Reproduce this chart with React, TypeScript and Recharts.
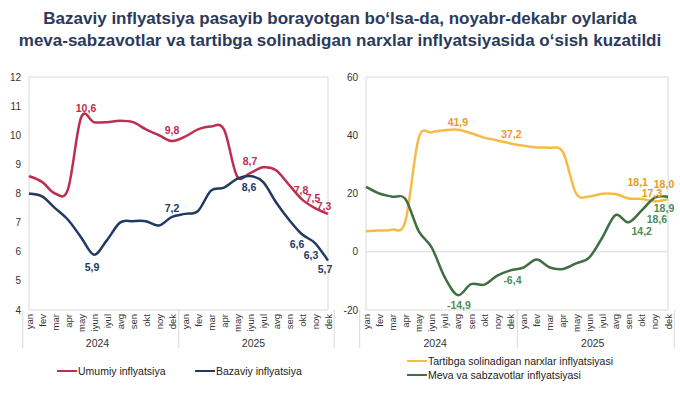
import React from 'react';
import { LineChart, Line, XAxis, YAxis, ReferenceArea, ReferenceLine, LabelList } from 'recharts';

const months = ['yan', 'fev', 'mar', 'apr', 'may', 'iyun', 'iyul', 'avg', 'sen', 'okt', 'noy', 'dek'];
const years = ['2024', '2025'];

const umumiy = [8.6, 8.4, 8.0, 8.15, 10.6, 10.45, 10.45, 10.5, 10.45, 10.2, 10.0, 9.8, 9.95, 10.2, 10.3, 10.2, 8.6, 8.7, 8.9, 8.8, 8.3, 7.8, 7.5, 7.3];
const bazaviy = [8.0, 7.9, 7.5, 7.1, 6.5, 5.9, 6.4, 7.0, 7.05, 7.05, 6.9, 7.2, 7.3, 7.4, 8.1, 8.2, 8.5, 8.6, 8.4, 7.7, 7.1, 6.6, 6.3, 5.7];
const tartibga = [7.0, 7.3, 7.6, 10.5, 38.8, 41.0, 41.7, 41.9, 40.7, 39.2, 38.2, 37.2, 36.4, 35.8, 35.7, 34.2, 20.0, 19.0, 19.9, 19.8, 18.3, 18.1, 17.3, 18.0];
const meva = [22.3, 20.0, 18.9, 18.1, 7.2, 1.5, -8.8, -14.9, -11.1, -11.3, -8.2, -6.4, -5.4, -2.7, -5.4, -5.9, -4.0, -2.0, 4.9, 12.6, 10.1, 14.2, 18.6, 18.9];

const leftTicks = [4, 5, 6, 7, 8, 9, 10, 11, 12];
const rightTicks = [-20, 0, 20, 40, 60];

const titleLines = [
  'Bazaviy inflyatsiya pasayib borayotgan bo‘lsa-da, noyabr-dekabr oylarida',
  'meva-sabzavotlar va tartibga solinadigan narxlar inflyatsiyasida o‘sish kuzatildi',
];
const leftLegend = ['Umumiy inflyatsiya', 'Bazaviy inflyatsiya'];
const rightLegend = ['Tartibga solinadigan narxlar inflyatsiyasi', 'Meva va sabzavotlar inflyatsiyasi'];

// which points carry a value label (index -> label offset dx, dy)
const umumiyLabels: Record<number, [number, number]> = { 4: [5, -10], 11: [0, -11], 17: [0, -12], 21: [-1, -9], 22: [-2, -10], 23: [-4, -8] };
const bazaviyLabels: Record<number, [number, number]> = { 5: [-2, 12], 11: [0, -9], 17: [-1, 11], 21: [-5, 10], 22: [-4, 12], 23: [-3, 9] };
const tartibgaLabels: Record<number, [number, number]> = { 7: [0, -8], 11: [1, -9], 21: [-4, -17], 22: [-3, -8], 23: [-4, -15] };
const mevaLabels: Record<number, [number, number]> = { 7: [1, 10], 11: [2, 10], 21: [0, 21], 22: [2, 21], 23: [-4, 11] };

const data = years.flatMap((y, yi) =>
  months.map((m, mi) => {
    const i = yi * 12 + mi;
    return { key: `${m}-${y}`, umumiy: umumiy[i], bazaviy: bazaviy[i], tartibga: tartibga[i], meva: meva[i] };
  })
);

const FONT = '"Liberation Sans", Arial, sans-serif';
const C = {
  red: '#BE2E50',
  navy: '#203A63',
  yellow: '#F6BB47',
  yellowLbl: '#E99A1F',
  green: '#3F6F42',
  greenLbl: '#4E8C56',
  grid: '#D9D9D9',
  text: '#333333',
  title: '#2B3A5C',
};

const excelCurve = (context: any) => {
  let pts: number[][] = [];
  return {
    areaStart() {},
    areaEnd() {},
    lineStart() {
      pts = [];
    },
    lineEnd() {
      const n = pts.length;
      if (n === 0) return;
      context.moveTo(pts[0][0], pts[0][1]);
      for (let i = 0; i < n - 1; i++) {
        const p0 = pts[Math.max(i - 1, 0)];
        const p1 = pts[i];
        const p2 = pts[i + 1];
        const p3 = pts[Math.min(i + 2, n - 1)];
        context.bezierCurveTo(
          p1[0] + (p2[0] - p0[0]) / 6,
          p1[1] + (p2[1] - p0[1]) / 6,
          p2[0] - (p3[0] - p1[0]) / 6,
          p2[1] - (p3[1] - p1[1]) / 6,
          p2[0],
          p2[1]
        );
      }
    },
    point(x: number, y: number) {
      pts.push([+x, +y]);
    },
  };
};

const fmt = (v: number) => v.toFixed(1).replace('.', ',');

const makeLabel = (labels: Record<number, [number, number]>, color: string) => (props: any) => {
  const { x, y, value, index } = props;
  const off = labels[index];
  if (!off) return null;
  return (
    <text x={x + off[0]} y={y + off[1]} textAnchor="middle" dominantBaseline="central" fill={color} fontSize={10.5} fontWeight="bold" fontFamily={FONT}>
      {fmt(Number(value))}
    </text>
  );
};

const makeTick = (bw: number) => (props: any) => {
  const { x, y, payload } = props;
  const i = payload?.index ?? props.index ?? 0;
  const month = months[i % 12];
  const y0 = y;
  return (
    <g>
      <text transform={`translate(${x},${y0 + 4}) rotate(-90)`} textAnchor="end" dominantBaseline="central" fontSize={9.5} fill={C.text} fontFamily={FONT}>
        {month}
      </text>
      {i % 12 === 0 && <line x1={x - bw / 2} x2={x - bw / 2} y1={y0} y2={y0 + 38} stroke={C.grid} strokeWidth={1} />}
      {i % 12 === 0 && (
        <text x={x - bw / 2 + 6 * bw} y={y0 + 37} textAnchor="middle" fontSize={10.5} fill={C.text} fontFamily={FONT}>
          {years[Math.floor(i / 12)]}
        </text>
      )}
      {i === 23 && <line x1={x + bw / 2} x2={x + bw / 2} y1={y0} y2={y0 + 38} stroke={C.grid} strokeWidth={1} />}
    </g>
  );
};

const LegendItem = ({ left, top, color, label }: { left: number; top: number; color: string; label: string }) => (
  <div style={{ position: 'absolute', left, top: top - 8, height: 16, display: 'flex', alignItems: 'center', fontFamily: FONT, fontSize: 10.5, color: '#222', whiteSpace: 'nowrap' }}>
    <div style={{ width: 20, height: 2.5, background: color, marginRight: 1 }} />
    <span>{label}</span>
  </div>
);

export default function App() {
  const W = 340;
  const H = 393;
  return (
    <div style={{ position: 'absolute', left: 0, top: 0, width: 680, height: 393, background: '#fff', overflow: 'hidden' }}>
      <div style={{ position: 'absolute', left: 0, top: 8, width: 680, textAlign: 'center', fontFamily: FONT, fontWeight: 'bold', fontSize: 17, lineHeight: '22px', color: C.title }}>
        {titleLines.map((t) => (
          <div key={t} style={{ whiteSpace: 'nowrap' }}>{t}</div>
        ))}
      </div>

      <div style={{ position: 'absolute', left: 0, top: 0 }}>
        <LineChart width={W} height={H} data={data} margin={{ top: 77, right: 12, bottom: 0, left: 0 }}>
          <XAxis dataKey="key" interval={0} axisLine={false} tickLine={false} tickSize={0} tickMargin={0} height={83} tick={makeTick(299 / 24)} />
          <YAxis domain={[4, 12]} ticks={leftTicks} width={29} axisLine={false} tickLine={false} tick={{ fontSize: 10, fill: C.text, fontFamily: FONT }} interval={0} />
          <ReferenceArea y1={4} y2={12} fill="none" stroke={C.grid} strokeWidth={1} ifOverflow="visible" />
          <Line dataKey="umumiy" type={excelCurve as any} stroke={C.red} strokeWidth={2.5} dot={false} activeDot={false} isAnimationActive={false}>
            <LabelList dataKey="umumiy" content={makeLabel(umumiyLabels, C.red)} />
          </Line>
          <Line dataKey="bazaviy" type={excelCurve as any} stroke={C.navy} strokeWidth={2.5} dot={false} activeDot={false} isAnimationActive={false}>
            <LabelList dataKey="bazaviy" content={makeLabel(bazaviyLabels, C.navy)} />
          </Line>
        </LineChart>
      </div>

      <div style={{ position: 'absolute', left: 340, top: 0 }}>
        <LineChart width={W} height={H} data={data} margin={{ top: 77, right: 12, bottom: 0, left: 0 }}>
          <XAxis dataKey="key" interval={0} axisLine={false} tickLine={false} tickSize={0} tickMargin={0} height={83} tick={makeTick(302 / 24)} />
          <YAxis domain={[-20, 60]} ticks={rightTicks} width={26} axisLine={false} tickLine={false} tick={{ fontSize: 10, fill: C.text, fontFamily: FONT }} interval={0} />
          <ReferenceArea y1={-20} y2={60} fill="none" stroke={C.grid} strokeWidth={1} ifOverflow="visible" />
          <ReferenceLine y={0} stroke={C.grid} strokeWidth={1} />
          <Line dataKey="tartibga" type={excelCurve as any} stroke={C.yellow} strokeWidth={2.5} dot={false} activeDot={false} isAnimationActive={false}>
            <LabelList dataKey="tartibga" content={makeLabel(tartibgaLabels, C.yellowLbl)} />
          </Line>
          <Line dataKey="meva" type={excelCurve as any} stroke={C.green} strokeWidth={2.5} dot={false} activeDot={false} isAnimationActive={false}>
            <LabelList dataKey="meva" content={makeLabel(mevaLabels, C.greenLbl)} />
          </Line>
        </LineChart>
      </div>

      <LegendItem left={57} top={371} color={C.red} label={leftLegend[0]} />
      <LegendItem left={195} top={371} color={C.navy} label={leftLegend[1]} />
      <LegendItem left={407} top={361} color={C.yellow} label={rightLegend[0]} />
      <LegendItem left={407} top={375} color={C.green} label={rightLegend[1]} />
    </div>
  );
}
